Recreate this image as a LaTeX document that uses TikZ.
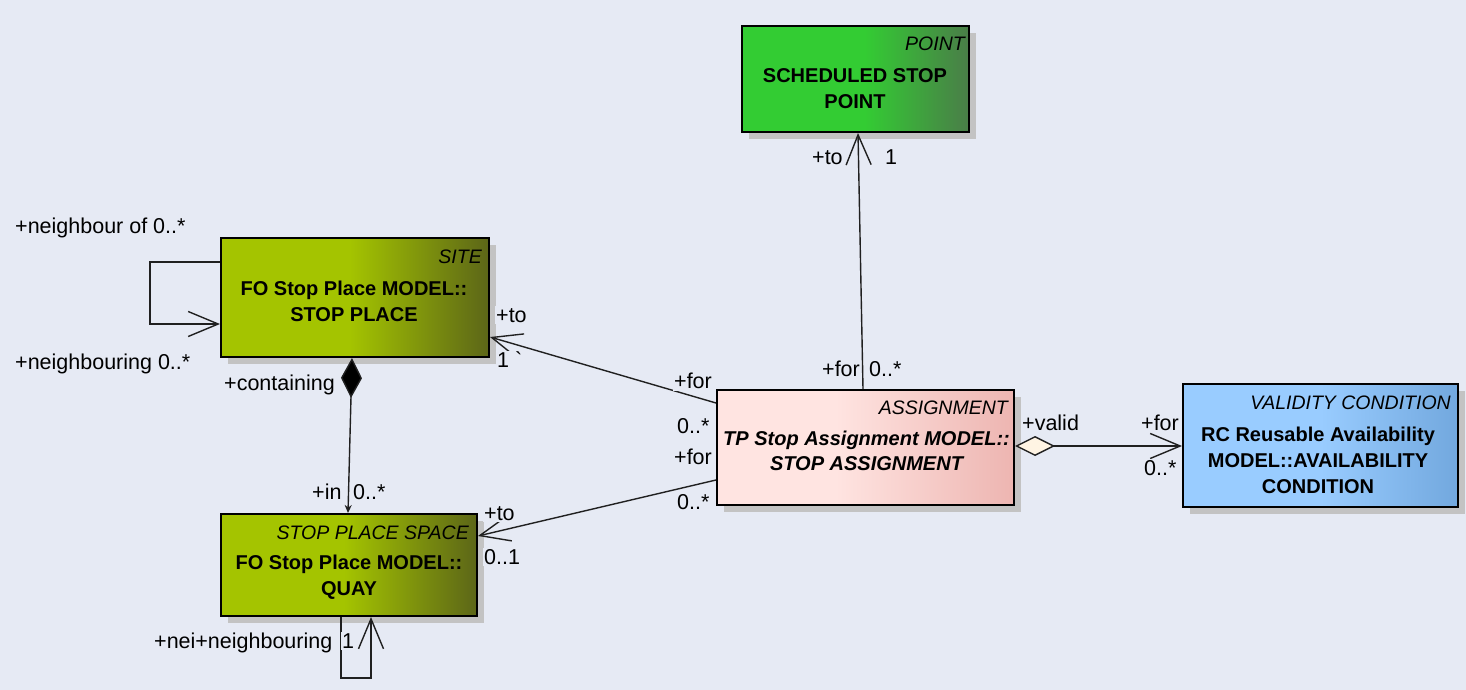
\documentclass[tikz,border=0pt]{standalone}
\usepackage{fontspec}
\setmainfont{Liberation Sans}
\usetikzlibrary{arrows.meta,calc,shadows}
\definecolor{bg}{HTML}{E6EAF4}
\definecolor{ptL}{HTML}{33CC33}
\definecolor{ptR}{HTML}{4A7D48}
\definecolor{olL}{HTML}{A4C400}
\definecolor{olR}{HTML}{5C6618}
\definecolor{asL}{HTML}{FFE4E1}
\definecolor{asR}{HTML}{EDB5B1}
\definecolor{vcL}{HTML}{99CCFF}
\definecolor{vcR}{HTML}{72A8DE}
\definecolor{shadowgrey}{HTML}{C3C3C3}
\definecolor{cream}{HTML}{FFF4E3}
\definecolor{linec}{HTML}{202020}
\pgfdeclarehorizontalshading{ptshade}{100bp}{color(0bp)=(ptL); color(52bp)=(ptL); color(75bp)=(ptR); color(100bp)=(ptR)}
\pgfdeclarehorizontalshading{olshade}{100bp}{color(0bp)=(olL); color(49bp)=(olL); color(75bp)=(olR); color(100bp)=(olR)}
\pgfdeclarehorizontalshading{asshade}{100bp}{color(0bp)=(asL); color(45bp)=(asL); color(75bp)=(asR); color(100bp)=(asR)}
\pgfdeclarehorizontalshading{vcshade}{100bp}{color(0bp)=(vcL); color(50bp)=(vcL); color(75bp)=(vcR); color(100bp)=(vcR)}
\tikzset{
  umlbox/.style={draw=black, line width=2pt, inner sep=0pt, shade,
    general shadow={fill=shadowgrey, shadow xshift=7pt, shadow yshift=-7pt}},
  nametext/.style={font=\bfseries\fontsize{20}{26}\selectfont, align=center, inner sep=0pt},
  stereo/.style={font=\itshape\fontsize{19.5}{24}\selectfont, anchor=east, inner sep=0pt, text height=14pt, text depth=0pt},
  lbl/.style={font=\fontsize{21.5}{24}\selectfont, anchor=west, fill=bg, inner xsep=1pt, inner ysep=2pt, text height=14pt, text depth=0pt},
  conn/.style={draw=linec, line width=1.4pt},
  openarrow/.tip={Straight Barb[length=30pt,width=25pt,line width=1.4pt]},
}
\begin{document}
\begin{tikzpicture}[x=1pt,y=-1pt]
\fill[bg] (0,0) rectangle (1466,690);
\useasboundingbox (0,0) rectangle (1466,690);

% boxes
\node[umlbox, shading=ptshade, minimum width=227pt, minimum height=106pt] (point) at (855.5,79) {};
\node[umlbox, shading=olshade, minimum width=268pt, minimum height=119pt] (site) at (355,297.5) {};
\node[umlbox, shading=olshade, minimum width=256pt, minimum height=102pt] (quay) at (349,565) {};
\node[umlbox, shading=asshade, minimum width=297pt, minimum height=115pt] (assign) at (865.5,447.5) {};
\node[umlbox, shading=vcshade, minimum width=275pt, minimum height=123pt] (valid) at (1320.5,445.5) {};

% box texts
\node[stereo] (point-s) at (965,44) {POINT};
\node[nametext] (point-n) at (855,89) {SCHEDULED STOP\\POINT};
\node[stereo] (site-s) at (482,256) {SITE};
\node[nametext] (site-n) at (354,301) {FO Stop Place MODEL::\\STOP PLACE};
\node[stereo] (quay-s) at (469,532.5) {STOP PLACE SPACE};
\node[nametext] (quay-n) at (349,577) {FO Stop Place MODEL::\\QUAY};
\node[stereo] (assign-s) at (1008,407.5) {ASSIGNMENT};
\node[nametext, font=\bfseries\itshape\fontsize{20}{25}\selectfont] (assign-n) at (866.5,451) {TP Stop Assignment MODEL::\\STOP ASSIGNMENT};
\node[stereo] (valid-s) at (1451,402) {VALIDITY CONDITION};
\node[nametext] (valid-n) at (1318,460) {RC Reusable Availability\\MODEL::AVAILABILITY\\CONDITION};

% connectors
\draw[conn, -openarrow] ([xshift=-2.5pt]assign.north) -- ([xshift=2.5pt]point.south);
\draw[conn, -openarrow] ([yshift=44.5pt]assign.west) -- ([yshift=-39.5pt]site.east);
\draw[conn, -openarrow] ([yshift=-32.5pt]assign.west) -- ([yshift=29pt]quay.east);
\draw[conn, {Diamond[length=40pt,width=21pt,fill=black]}-{Stealth[length=8pt,width=7pt]}] ([xshift=-3pt]site.south) -- ([xshift=-1pt]quay.north);
\draw[conn, {Diamond[length=40pt,width=20pt,fill=cream]}-openarrow] ([yshift=1.5pt]assign.east) -- ([yshift=1.5pt]assign.east -| valid.west);
\draw[conn, -openarrow] ([yshift=35.5pt]site.west) -- ++(-70,0) -- ++(0,62) -- ([yshift=-26.5pt]site.west);
\draw[conn, -openarrow] ([xshift=-8pt]quay.south) -- ++(0,61) -- ++(30,0) -- ([xshift=22pt]quay.south);

% labels
\node[lbl] (l1) at (811,157) {+to};
\node[lbl] (l2) at (884,157) {1};
\node[lbl] (l3) at (821,369) {+for};
\node[lbl] (l4) at (868,369) {0..*};
\node[lbl] (l5) at (14,226) {+neighbour of 0..*};
\node[lbl] (l6) at (14,362) {+neighbouring 0..*};
\node[lbl] (l7) at (223,383) {+containing};
\node[lbl] (l8) at (311,492.5) {+in};
\node[lbl] (l9) at (352,492.5) {0..*};
\node[lbl] (l10) at (495,315) {+to};
\node[lbl] (l11) at (496,360) {1 \textasciigrave};
\node[lbl] (l12) at (673,381.5) {+for};
\node[lbl] (l13) at (676,426.5) {0..*};
\node[lbl] (l14) at (673,457.5) {+for};
\node[lbl] (l15) at (676,502) {0..*};
\node[lbl] (l16) at (483,513) {+to};
\node[lbl] (l17) at (483,557) {0..1};
\node[lbl] (l18) at (1021,423) {+valid};
\node[lbl] (l19) at (1140,423) {+for};
\node[lbl] (l20) at (1143,468) {0..*};
\node[lbl, inner ysep=6pt] (l21) at (153,641) {+nei+neighbouring};
\node[lbl] (l22) at (341,641) {1};
\end{tikzpicture}
\end{document}
